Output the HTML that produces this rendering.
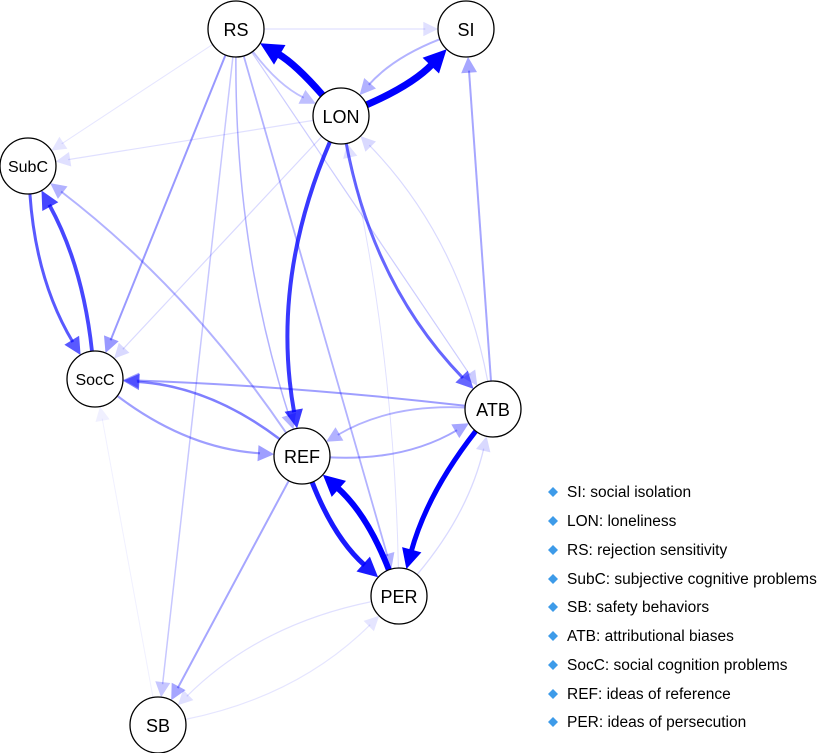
<!DOCTYPE html>
<html><head><meta charset="utf-8"><style>
html,body{margin:0;padding:0;background:#fff;width:821px;height:753px;overflow:hidden}
svg{display:block;font-family:"Liberation Sans",Arial,sans-serif}
</style></head><body>
<svg id="g" width="821" height="753" viewBox="0 0 821 753" xmlns="http://www.w3.org/2000/svg">
<g id="edges"></g>
<g id="nodes" stroke="#000" stroke-width="1.3" fill="#fff">
<circle cx="236" cy="29" r="28"/><circle cx="466" cy="29" r="28"/><circle cx="341" cy="116" r="28"/>
<circle cx="28" cy="166" r="28"/><circle cx="95" cy="379" r="28"/><circle cx="493" cy="409" r="28"/>
<circle cx="302" cy="456" r="28"/><circle cx="399" cy="596" r="28"/><circle cx="158" cy="725" r="28"/>
</g>
<g font-size="18" text-anchor="middle" fill="#000">
<text x="236" y="36">RS</text><text x="466" y="36">SI</text><text x="341" y="123">LON</text>
<text x="28" y="172" font-size="16">SubC</text><text x="95" y="385" font-size="16">SocC</text><text x="493" y="416">ATB</text>
<text x="302" y="463">REF</text><text x="399" y="603">PER</text><text x="158" y="732">SB</text>
</g>
<g font-size="15.5" fill="#000">
<g fill="#3d9be9">
<path d="M553 487l5 5-5 5-5-5z"/><path d="M553 516l5 5-5 5-5-5z"/><path d="M553 545l5 5-5 5-5-5z"/>
<path d="M553 574l5 5-5 5-5-5z"/><path d="M553 602l5 5-5 5-5-5z"/><path d="M553 631l5 5-5 5-5-5z"/>
<path d="M553 660l5 5-5 5-5-5z"/><path d="M553 689l5 5-5 5-5-5z"/><path d="M553 717l5 5-5 5-5-5z"/>
</g>
<text x="567" y="497">SI: social isolation</text>
<text x="567" y="526">LON: loneliness</text>
<text x="567" y="555">RS: rejection sensitivity</text>
<text x="567" y="584">SubC: subjective cognitive problems</text>
<text x="567" y="612">SB: safety behaviors</text>
<text x="567" y="641">ATB: attributional biases</text>
<text x="567" y="670">SocC: social cognition problems</text>
<text x="567" y="699">REF: ideas of reference</text>
<text x="567" y="727">PER: ideas of persecution</text>
</g>
</svg>
<script>
var N={RS:[236,29],SI:[466,29],LON:[341,116],SubC:[28,166],SocC:[95,379],ATB:[493,409],REF:[302,456],PER:[399,596],SB:[158,725]};
var R=28;
var E=[
["RS","SI",1.2,.12,0],["SI","LON",2,.3,.12],["RS","LON",1.8,.25,.12],
["RS","SubC",1,.1,0],["LON","SubC",1.2,.12,0],["REF","SubC",2,.3,.08],
["RS","SocC",2,.4,0],["LON","SocC",1.2,.15,0],["RS","REF",1.5,.3,.08],["RS","PER",1.8,.3,0],
["RS","SB",1.5,.22,0],["RS","ATB",1.2,.2,0],["PER","LON",1,.12,.05],["ATB","LON",1.2,.15,.15],
["ATB","SI",2,.35,0],["ATB","SocC",2,.38,.02],["REF","SocC",2.5,.5,.15],["SocC","REF",2.2,.38,.15],
["REF","ATB",2,.35,.15],["ATB","REF",1.8,.3,.15],["PER","ATB",1.3,.15,.12],
["REF","SB",2,.35,0],["PER","SB",1.2,.12,.15],["SB","PER",1.2,.1,.15],["SB","SocC",1,.06,0],
["SubC","SocC",3,.65,.12],["SocC","SubC",3.8,.72,.1],
["LON","ATB",3,.6,.15],["LON","REF",4,.78,.15],
["REF","PER",5,.9,.12],["PER","REF",6,1,.12],["ATB","PER",5,1,.1],
["LON","RS",7,1,.08],["LON","SI",7,1,.1]
];
var g=document.getElementById('edges'),s='';
E.forEach(function(e){
 var a=N[e[0]],b=N[e[1]],w=e[2],op=e[3],c=e[4];
 var dx=b[0]-a[0],dy=b[1]-a[1],L=Math.hypot(dx,dy);
 var px=-dy/L,py=dx/L;
 var cx=(a[0]+b[0])/2+px*c*L,cy=(a[1]+b[1])/2+py*c*L;
 function toward(p,q,d){var x=q[0]-p[0],y=q[1]-p[1],l=Math.hypot(x,y);return [p[0]+x/l*d,p[1]+y/l*d];}
 var s0=toward(a,[cx,cy],R),t=toward(b,[cx,cy],R);
 var ux=t[0]-cx,uy=t[1]-cy,ul=Math.hypot(ux,uy);ux/=ul;uy/=ul;
 var al=13+w*1.4,aw=al*0.5;
 var bx=t[0]-ux*al,by=t[1]-uy*al;
 var col='rgba(0,0,255,'+op+')';
 s+='<path d="M'+s0[0].toFixed(1)+' '+s0[1].toFixed(1)+' Q'+cx.toFixed(1)+' '+cy.toFixed(1)+' '+(bx+ux*2).toFixed(1)+' '+(by+uy*2).toFixed(1)+'" fill="none" stroke="'+col+'" stroke-width="'+w+'"/>';
 s+='<path d="M'+t[0].toFixed(1)+' '+t[1].toFixed(1)+' L'+(bx-uy*aw).toFixed(1)+' '+(by+ux*aw).toFixed(1)+' L'+(bx+uy*aw).toFixed(1)+' '+(by-ux*aw).toFixed(1)+'Z" fill="'+col+'"/>';
});
g.innerHTML=s;
</script>
</body></html>
